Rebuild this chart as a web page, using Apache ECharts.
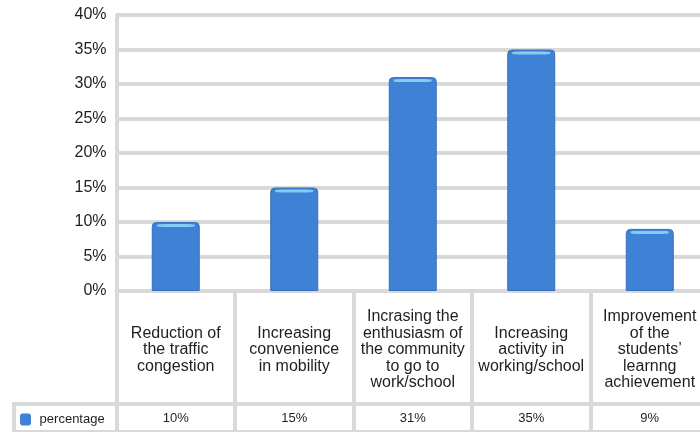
<!DOCTYPE html>
<html>
<head>
<meta charset="utf-8">
<script src="https://cdn.jsdelivr.net/npm/echarts@6/dist/echarts.min.js"></script>
<style>
  html, body { margin: 0; padding: 0; background: #fff; }
  #chart { width: 700px; height: 432px; }
</style>
</head>
<body>
<div id="chart"></div>
<script>
// data
const categories = [
    'Reduction of\nthe traffic\ncongestion',
    'Increasing\nconvenience\nin mobility',
    'Incrasing the\nenthusiasm of\nthe community\nto go to\nwork/school',
    'Increasing\nactivity in\nworking/school',
    'Improvement\nof the\nstudents\u2019\nlearnng\nachievement'
];
const percentage = [10, 15, 31, 35, 9];
const yTicks = [0, 5, 10, 15, 20, 25, 30, 35, 40];
const seriesName = 'percentage';

const gridGray = '#d9d9d9';
const textColor = '#1e1e1e';
const font = 'Liberation Sans, Arial, sans-serif';

const chart = echarts.init(document.getElementById('chart'));

chart.setOption({
    animation: false,
    textStyle: { fontFamily: font },
    // last column runs past the right edge, as in the picture
    grid: { left: 116.5, width: 592.5, top: 15, bottom: 141, containLabel: false, outerBoundsMode: 'none' },
    legend: {
        data: [seriesName],
        left: 20, top: 413,
        padding: 0,
        itemWidth: 11, itemHeight: 12,
        icon: 'roundRect',
        itemStyle: { borderWidth: 0 },
        formatter: ' {name}',
        textStyle: { fontSize: 13, color: textColor }
    },
    xAxis: [{
        // category names, cells split by long ticks
        type: 'category',
        data: categories,
        axisLine: { lineStyle: { color: gridGray, width: 4 } },
        axisTick: { show: true, length: 141, lineStyle: { color: gridGray, width: 4 } },
        axisLabel: {
            interval: 0, margin: 59, verticalAlign: 'middle',
            fontSize: 16, lineHeight: 16.5, color: textColor, align: 'center'
        }
    }, {
        // data table row
        type: 'category',
        position: 'bottom',
        offset: 113,
        data: percentage.map(v => v + '%'),
        axisLine: { lineStyle: { color: gridGray, width: 4 } },
        axisTick: { show: false },
        axisLabel: { interval: 0, margin: 14, verticalAlign: 'middle', fontSize: 13, color: textColor }
    }],
    yAxis: {
        type: 'value',
        min: yTicks[0], max: yTicks[yTicks.length - 1], interval: 5,
        axisLine: { show: true, lineStyle: { color: gridGray, width: 4 } },
        axisTick: { show: false },
        axisLabel: { formatter: '{value}%', fontSize: 16, color: textColor, margin: 10 },
        splitLine: { lineStyle: { color: gridGray, width: 4 } }
    },
    series: [{
        name: seriesName,
        type: 'bar',
        data: percentage,
        barWidth: 48,
        barGap: '-100%',
        itemStyle: {
            color: '#3f81d4',
            borderColor: '#3670bd',
            borderWidth: 1,
            borderRadius: [4, 4, 0, 0]
        }
    }, {
        // light strip at the top of each bar
        name: 'highlight',
        type: 'pictorialBar',
        data: percentage,
        symbol: 'roundRect',
        symbolSize: [38, 3],
        symbolPosition: 'end',
        symbolOffset: [0, 2],
        barWidth: 48,
        barGap: '-100%',
        itemStyle: { color: '#86cbf4' },
        z: 3
    }],
    graphic: [
        { type: 'line', shape: { x1: 14, y1: 404, x2: 118, y2: 404 }, style: { stroke: gridGray, lineWidth: 4 } },
        { type: 'line', shape: { x1: 14, y1: 402, x2: 14, y2: 432 }, style: { stroke: gridGray, lineWidth: 4 } },
        { type: 'line', shape: { x1: 14, y1: 431, x2: 700, y2: 431 }, style: { stroke: gridGray, lineWidth: 2 } }
    ]
});
</script>
</body>
</html>
